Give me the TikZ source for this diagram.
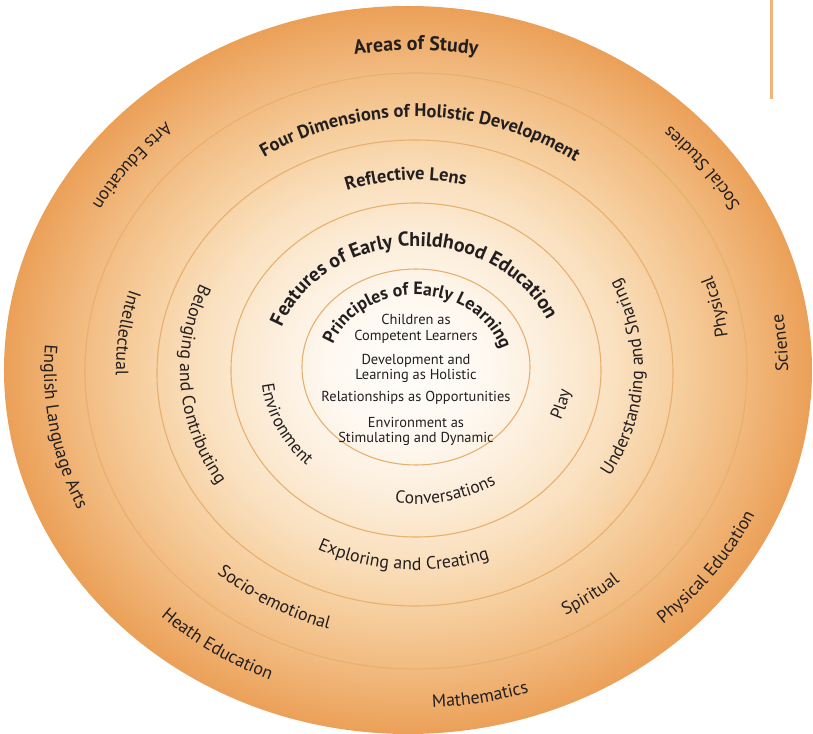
\documentclass[tikz,border=0pt]{standalone}
\usepackage{fontspec}
\setmainfont{PT Sans}
\usetikzlibrary{decorations.text}

\definecolor{inkc}{RGB}{35,31,32}
\definecolor{ringc}{RGB}{232,176,110}
\definecolor{barc}{RGB}{240,180,122}
\definecolor{sh0}{RGB}{255,254,252}
\definecolor{sh1}{RGB}{254,248,240}
\definecolor{sh2}{RGB}{252,237,217}
\definecolor{sh3}{RGB}{250,224,190}
\definecolor{sh4}{RGB}{246,205,156}
\definecolor{sh5}{RGB}{241,184,124}
\definecolor{sh6}{RGB}{235,160,88}

\pgfdeclareradialshading{ecefill}{\pgfpoint{0bp}{0bp}}{%
  color(0bp)=(sh0); color(5bp)=(sh1); color(9bp)=(sh2); color(13bp)=(sh3);
  color(17bp)=(sh4); color(21bp)=(sh5); color(25bp)=(sh6); color(50bp)=(sh6)}

% fonts for the different levels
\newcommand\ecebig{\bfseries\fontsize{20}{20}\selectfont}
\newcommand\ecefour{\bfseries\fontsize{18.5}{18.5}\selectfont}
\newcommand\ecerefl{\bfseries\fontsize{18.5}{18.5}\selectfont}
\newcommand\ecefeat{\bfseries\fontsize{20}{20}\selectfont}
\newcommand\eceprin{\bfseries\fontsize{18}{18}\selectfont}
\newcommand\ecelbl{\fontsize{18}{18}\selectfont}
\newcommand\ecemid{\fontsize{17.5}{17.5}\selectfont}

% text along an elliptic arc: x radius, y radius, start angle, end angle, font, text
\newcommand\curvelabel[6]{%
  \path[decorate, decoration={text along path, text color=inkc,
      text align=center, text={|#5|#6}}]
    (0,0) ++(#3:#1bp and #2bp)
    arc[start angle=#3, end angle=#4, x radius=#1bp, y radius=#2bp];}

\begin{document}
\begin{tikzpicture}[x=1bp, y=1bp,
  ringline/.style={draw=ringc, line width=1.1bp},
  centretext/.style={font=\fontsize{14.5}{15.5}\selectfont, text=inkc,
    inner sep=0pt, anchor=base}]

\useasboundingbox (-416,-364) rectangle (397,370);
\fill[white] (-416,-364) rectangle (397,370);

% shaded body
\shade[shading=ecefill] (-8,0) ellipse [x radius=404bp, y radius=364bp];

% ring boundaries
\draw[ringline] (0,3) ellipse [x radius=114bp, y radius=98bp];
\draw[ringline] (0,0) ellipse [x radius=185bp, y radius=167bp];
\draw[ringline] (-1,-3) ellipse [x radius=258bp, y radius=233bp];
\draw[ringline] (0,-1) ellipse [x radius=331bp, y radius=298bp];

% rule at the top right
\coordinate (bartop) at (355,370);
\coordinate (barbot) at (355,271);
\draw[barc, line width=3bp] (bartop) -- (barbot);

% outer band: areas of study
\curvelabel{355}{320}{140}{40}{\ecebig}{Areas of Study}
\curvelabel{372}{335}{93}{193}{\ecelbl}{Arts Education}
\curvelabel{372}{335}{-13.5}{86.5}{\ecelbl}{Social Studies}
\curvelabel{372}{335}{-45.6}{54.4}{\ecelbl}{Science}
\curvelabel{375}{338}{-85.5}{14.5}{\ecelbl}{Physical Education}
\curvelabel{375}{338}{-129.4}{-29.4}{\ecelbl}{Mathematics}
\curvelabel{374}{337}{185.5}{285.5}{\ecelbl}{Heath Education}
\curvelabel{372}{335}{139.6}{239.6}{\ecelbl}{English Language Arts}

% four dimensions of holistic development
\curvelabel{281}{253}{159}{19}{\ecefour}{Four Dimensions of Holistic Development}
\curvelabel{300}{270}{122.4}{222.4}{\ecelbl}{Intellectual}
\curvelabel{314}{283}{-37.6}{62.4}{\ecelbl}{Physical}
\curvelabel{301}{271}{189.5}{289.5}{\ecelbl}{Socio-emotional}
\curvelabel{311}{280}{-103.5}{-3.5}{\ecelbl}{Spiritual}

% reflective lens
\curvelabel{210}{190}{153}{33}{\ecerefl}{Reflective Lens}
\curvelabel{236}{212}{124.2}{244.2}{\ecelbl}{Belonging and Contributing}
\curvelabel{227}{205}{-62.3}{57.7}{\ecelbl}{Understanding and Sharing}
\curvelabel{222}{200}{-153.7}{-33.7}{\ecelbl}{Exploring and Creating}

% features of early childhood education
\curvelabel{143}{124}{176.7}{6.7}{\ecefeat}{Features of Early Childhood Education}
\curvelabel{155}{135}{154.1}{254.1}{\ecemid}{Environment}
\curvelabel{156}{136}{-64.1}{35.9}{\ecemid}{Play}
\curvelabel{154}{134}{-127.5}{-27.5}{\ecemid}{Conversations}

% principles of early learning
\curvelabel{88}{75}{176}{0}{\eceprin}{Principles of Early Learning}

\node[centretext] (p1a) at (0,45) {Children as};
\node[centretext] (p1b) at (0,29.3) {Competent Learners};
\node[centretext] (p2a) at (0,5) {Development and};
\node[centretext] (p2b) at (0,-10) {Learning as Holistic};
\node[centretext] (p3) at (0,-32) {Relationships as Opportunities};
\node[centretext] (p4a) at (0,-58) {Environment as};
\node[centretext] (p4b) at (0,-73) {Stimulating and Dynamic};

\end{tikzpicture}
\end{document}
